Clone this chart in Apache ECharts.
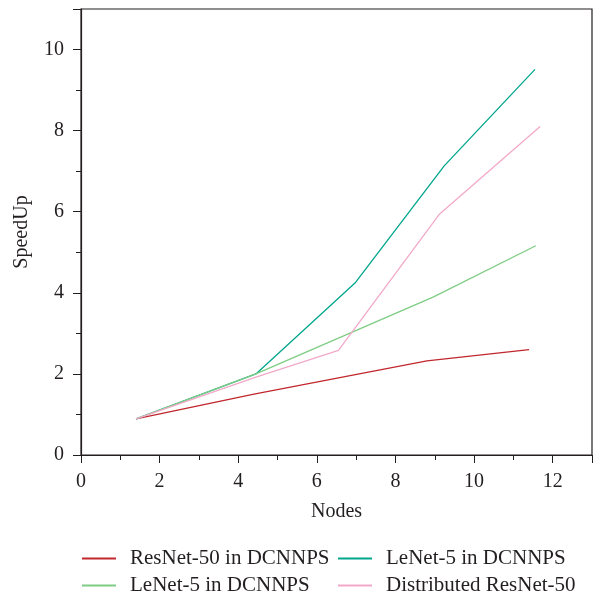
<!DOCTYPE html>
<html>
<head>
<meta charset="utf-8">
<script src="https://cdn.jsdelivr.net/npm/echarts@6/dist/echarts.min.js"></script>
<style>
  html, body { margin: 0; padding: 0; background: #fff; }
  #chart { width: 598px; height: 595px; }
</style>
</head>
<body>
<div id="chart"></div>
<script>
// points: [nodes, speedup]
const resnetDcnnps = [[1.4, 0.89], [4.4, 1.5], [6.55, 1.9], [8.8, 2.32], [11.4, 2.6]];
const lenetTeal = [[1.4, 0.89], [4.45, 2.0], [6.97, 4.24], [9.24, 7.13], [11.55, 9.51]];
const lenetGreen = [[1.4, 0.89], [4.45, 2.0], [8.97, 3.9], [11.57, 5.16]];
const distributedResnet = [[1.4, 0.89], [4.45, 1.92], [6.55, 2.58], [9.11, 5.93], [11.68, 8.1]];

const xTicks = [0, 2, 4, 6, 8, 10, 12];
const yTicks = [0, 2, 4, 6, 8, 10];

const font = 'Liberation Serif';
const ink = '#231f20';

const chart = echarts.init(document.getElementById('chart'));

const axisCommon = {
    axisLine: { show: true, onZero: false, lineStyle: { color: ink, width: 1.2 } },
    axisTick: { show: true, inside: false, length: 8, lineStyle: { color: ink } },
    minorTick: { show: true, splitNumber: 2, length: 5, lineStyle: { color: ink } },
    splitLine: { show: false },
    axisLabel: { color: ink, fontFamily: font, fontSize: 20 },
    nameTextStyle: { color: ink, fontFamily: font, fontSize: 20 }
};

const line = (name, data, color) => ({
    name,
    type: 'line',
    data,
    symbol: 'none',
    lineStyle: { color, width: 1.3 },
    itemStyle: { color },
    z: 3
});

const legendText = { color: ink, fontFamily: font, fontSize: 21, lineHeight: 20, padding: [0, 0, 0, 9] };

chart.setOption({
    animation: false,
    grid: { left: 81, right: 6, top: 9, bottom: 140, show: true, borderColor: ink, borderWidth: 1.2 },
    xAxis: {
        ...axisCommon,
        type: 'value',
        min: 0,
        max: 13,
        interval: 2,
        name: 'Nodes',
        nameLocation: 'middle',
        nameGap: 47,
        axisLabel: { ...axisCommon.axisLabel, margin: 17, showMaxLabel: false,
            formatter: v => xTicks.includes(v) ? String(v) : '' }
    },
    yAxis: {
        ...axisCommon,
        type: 'value',
        min: 0,
        max: 11,
        interval: 2,
        name: 'SpeedUp',
        nameLocation: 'middle',
        nameGap: 49,
        axisLabel: { ...axisCommon.axisLabel, margin: 17, showMaxLabel: false,
            formatter: v => yTicks.includes(v) ? String(v) : '' }
    },
    legend: [
        {
            left: 77, top: 543, height: 60, orient: 'vertical', itemGap: 6,
            itemWidth: 34, itemHeight: 2, icon: 'rect',
            data: ['ResNet-50 in DCNNPS', 'LeNet-5 in DCNNPS '],
            textStyle: legendText
        },
        {
            left: 333, top: 543, height: 60, orient: 'vertical', itemGap: 6,
            itemWidth: 34, itemHeight: 2, icon: 'rect',
            data: ['LeNet-5 in DCNNPS', 'Distributed ResNet-50'],
            textStyle: legendText
        }
    ],
    series: [
        line('ResNet-50 in DCNNPS', resnetDcnnps, '#c1272d'),
        line('LeNet-5 in DCNNPS', lenetTeal, '#00a68c'),
        line('LeNet-5 in DCNNPS ', lenetGreen, '#7fcc84'),
        line('Distributed ResNet-50', distributedResnet, '#f2a9c9')
    ]
});
</script>
</body>
</html>
